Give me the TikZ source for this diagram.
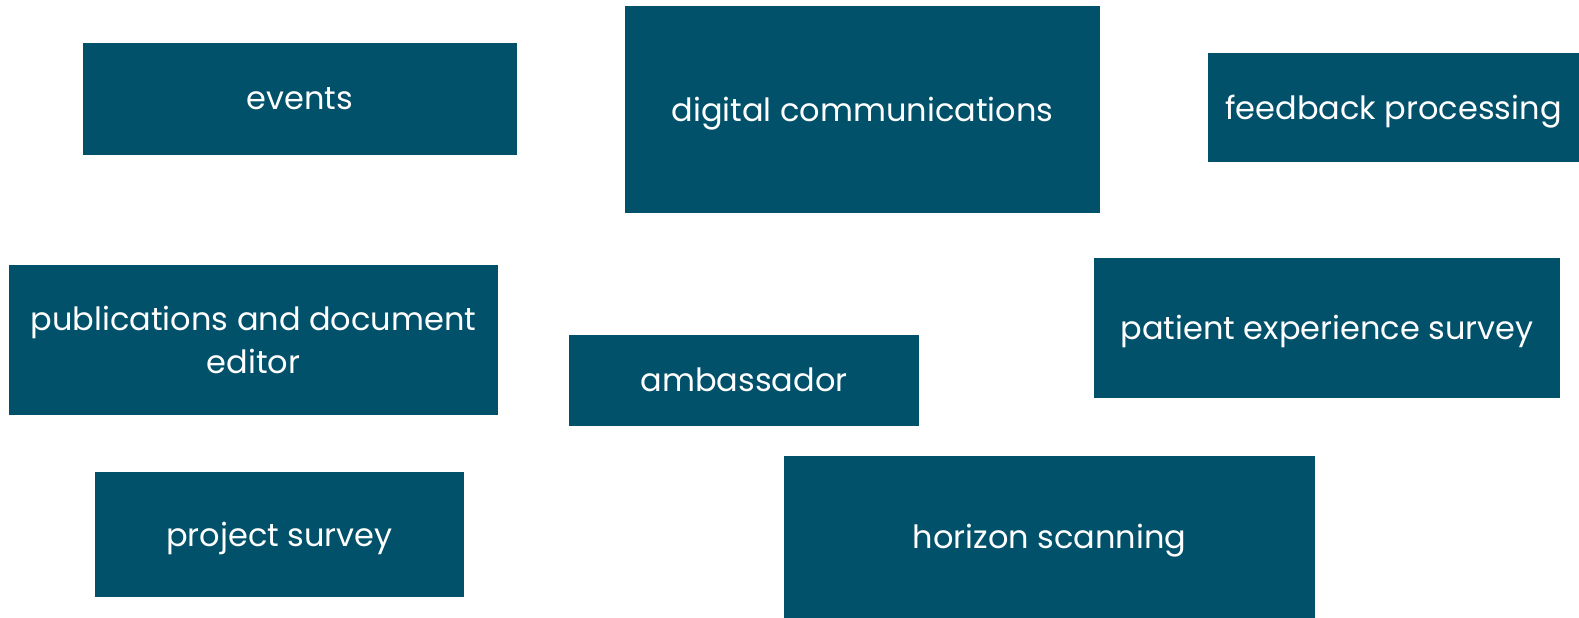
\documentclass[tikz,border=0pt]{standalone}
\usepackage{fontspec}
\setmainfont{Poppins}
\usepackage{tikz}
\definecolor{teal}{HTML}{01516B}

\begin{document}
\begin{tikzpicture}[x=1pt ,y=-1pt ,
topic/.style ={rectangle ,fill=teal ,text=white ,inner sep=0pt ,
font=\fontsize{32}{43}\selectfont ,align=center ,text depth=1pt}
]
\useasboundingbox (0,0) rectangle (1579,618);
\node[topic ,minimum width=434pt ,minimum height=112pt] (events) at (300,99) {events};
\node[topic ,minimum width=475pt ,minimum height=207pt] (digital) at (862.5,109.5) {digital communications};
\node[topic ,minimum width=371pt ,minimum height=109pt] (feedback) at (1393.5,107.5) {feedback processing};
\node[topic ,minimum width=489pt ,minimum height=150pt] (publications) at (253.5,340) {publications and document\\editor};
\node[topic ,minimum width=350pt ,minimum height=91pt] (ambassador) at (744,380.5) {ambassador};
\node[topic ,minimum width=466pt ,minimum height=140pt] (patient) at (1327,328) {patient experience survey};
\node[topic ,minimum width=369pt ,minimum height=125pt] (project) at (279.5,534.5) {project survey};
\node[topic ,minimum width=531pt ,minimum height=162pt] (horizon) at (1049.5,537) {horizon scanning};
\end{tikzpicture}
\end{document}
